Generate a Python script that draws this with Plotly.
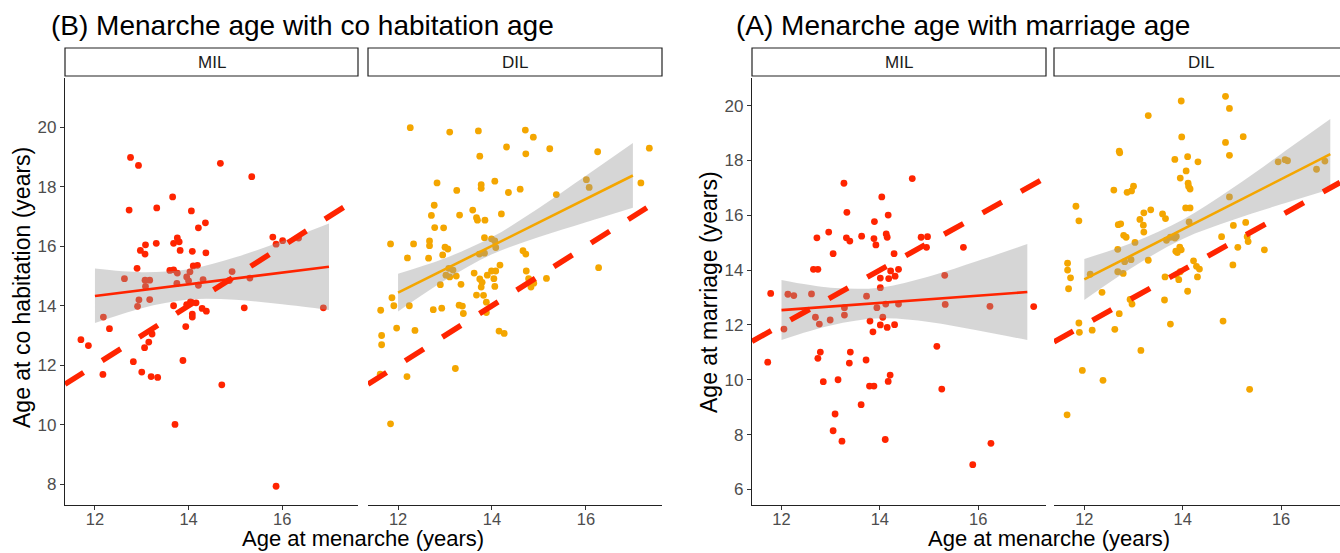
import plotly.graph_objects as go

W, H = 1340, 553

# ---------------- data (points are jittered in the original) -------------
b_mil_x = [12.76, 12.93, 14.68, 15.35, 13.66, 12.73, 13.32, 14.06, 14.36, 14.21, 13.76, 13.80, 13.68, 13.31,
           13.08, 12.97, 13.07, 13.82, 14.08, 14.37, 15.80, 16.01, 15.87, 16.35, 12.90, 13.60, 13.68, 13.76,
           14.10, 14.19, 14.03, 13.96, 12.63, 13.07, 13.17, 13.08, 13.75, 14.00, 14.21, 14.31, 14.93, 14.87,
           15.31, 12.94, 12.91, 13.17, 13.68, 13.96, 14.04, 14.16, 14.29, 14.38, 15.19, 16.88, 14.08, 14.08,
           12.18, 12.31, 11.70, 11.86, 13.22, 13.15, 13.06, 13.94, 12.82, 13.00, 12.17, 13.20, 13.34, 13.88,
           14.71, 13.71, 15.87]
b_mil_y = [18.99, 18.72, 18.79, 18.34, 17.66, 17.22, 17.29, 17.19, 16.79, 16.62, 16.28, 16.15, 16.10, 16.10,
           16.05, 15.86, 15.74, 15.86, 15.83, 15.78, 16.31, 16.19, 16.07, 16.28, 15.26, 15.19, 15.21, 15.10,
           15.34, 15.36, 15.14, 14.97, 14.91, 14.86, 14.86, 14.65, 14.75, 14.84, 14.69, 14.88, 15.15, 14.85,
           14.93, 14.20, 13.98, 14.21, 14.00, 14.04, 14.13, 14.10, 13.91, 13.82, 13.93, 13.93, 13.72, 13.62,
           13.62, 13.23, 12.86, 12.66, 13.05, 12.78, 12.59, 13.30, 12.12, 11.77, 11.69, 11.62, 11.59, 12.16,
           11.34, 10.01, 7.93]

b_dil_x = [12.26, 13.10, 13.71, 14.71, 14.88, 13.74, 14.31, 14.72, 15.23, 16.25, 17.35, 12.83, 13.25, 13.77,
           13.77, 14.06, 14.35, 14.60, 15.37, 16.01, 16.07, 17.17, 12.77, 12.71, 13.31, 13.59, 13.67, 13.69,
           13.85, 14.20, 12.78, 12.97, 11.84, 12.33, 12.67, 12.67, 13.00, 13.06, 12.95, 12.20, 12.65, 13.84,
           13.99, 14.06, 14.08, 13.73, 13.84, 14.66, 14.72, 13.08, 13.17, 13.02, 13.10, 13.24, 12.90, 13.34,
           13.62, 13.74, 13.79, 13.77, 13.90, 13.99, 14.08, 14.04, 14.17, 14.06, 13.67, 13.82, 13.88, 14.73,
           14.78, 14.89, 14.83, 15.16, 16.27, 11.87, 11.91, 12.24, 11.63, 12.75, 12.93, 13.30, 13.37, 13.39,
           13.88, 11.65, 11.65, 11.97, 12.36, 11.62, 12.19, 13.22, 11.84, 14.15, 14.26]
b_dil_y = [19.99, 19.84, 19.88, 19.91, 19.67, 19.03, 19.34, 19.11, 19.28, 19.18, 19.30, 18.13, 17.88, 18.07,
           17.95, 18.19, 17.81, 17.92, 17.74, 18.24, 17.98, 18.13, 17.38, 17.04, 17.05, 17.22, 16.96, 16.88,
           16.88, 17.09, 16.63, 16.62, 16.08, 16.08, 16.18, 16.02, 15.97, 15.91, 15.71, 15.61, 15.60, 16.29,
           16.25, 16.18, 15.96, 15.74, 15.77, 15.85, 15.74, 15.26, 15.20, 15.03, 14.97, 15.00, 14.71, 14.72,
           15.10, 14.90, 14.79, 14.63, 15.03, 15.17, 15.17, 14.91, 15.37, 14.65, 14.36, 14.35, 14.12, 15.17,
           14.91, 14.76, 14.63, 14.92, 15.28, 14.27, 14.00, 14.00, 13.85, 13.87, 13.92, 14.02, 13.99, 13.74,
           13.77, 13.00, 12.69, 13.25, 13.17, 11.70, 11.62, 11.89, 10.03, 13.15, 13.07]

a_mil_x = [13.27, 14.66, 14.04, 13.33, 13.89, 14.17, 12.96, 12.72, 13.32, 13.39, 13.63, 13.88, 13.92, 14.13,
           14.15, 14.84, 14.97, 14.95, 15.70, 13.05, 14.29, 12.65, 12.74, 14.01, 14.18, 14.31, 14.22, 14.38,
           14.01, 15.32, 11.78, 12.13, 12.25, 12.61, 13.73, 13.94, 14.12, 14.38, 13.28, 13.28, 15.33, 16.24,
           17.13, 12.05, 12.69, 12.77, 12.99, 13.80, 14.06, 14.01, 14.15, 14.30, 13.86, 15.16, 11.72, 12.79,
           12.74, 13.40, 13.38, 13.72, 12.85, 13.15, 13.79, 13.88, 14.17, 14.21, 15.26, 13.62, 13.09, 13.05,
           13.23, 14.11, 16.26, 15.89]
a_mil_y = [17.17, 17.34, 16.67, 16.11, 15.77, 16.01, 15.39, 15.18, 15.18, 15.06, 15.24, 15.15, 14.92, 15.32,
           15.20, 15.20, 15.22, 14.83, 14.83, 14.60, 14.60, 14.03, 14.03, 13.71, 13.69, 13.78, 13.97, 14.03,
           13.36, 13.81, 13.15, 13.12, 13.07, 13.13, 13.05, 12.63, 12.76, 12.76, 12.63, 12.36, 12.75, 12.68,
           12.67, 11.85, 12.28, 12.03, 12.18, 12.14, 12.28, 12.00, 11.91, 12.01, 11.75, 11.22, 10.64, 11.01,
           10.78, 11.01, 10.61, 10.72, 9.93, 10.00, 9.77, 9.77, 9.94, 10.17, 9.66, 9.09, 8.75, 8.14,
           7.76, 7.82, 7.68, 6.90]

a_dil_x = [13.97, 14.87, 14.95, 13.30, 13.98, 14.87, 15.23, 12.71, 12.72, 14.95, 13.84, 14.10, 14.31, 14.07,
           13.95, 14.11, 14.12, 14.15, 12.60, 13.00, 12.96, 12.87, 15.94, 16.08, 16.13, 16.72, 16.89, 14.95,
           11.83, 11.89, 13.21, 13.35, 13.59, 13.65, 14.06, 14.15, 14.13, 12.69, 12.74, 13.13, 13.20, 13.21,
           12.80, 12.85, 13.03, 12.68, 13.67, 13.75, 13.84, 13.87, 13.94, 13.97, 13.86, 13.89, 14.79, 15.03,
           15.28, 15.31, 15.33, 15.12, 15.66, 15.02, 12.82, 12.95, 13.30, 12.68, 12.79, 12.12, 14.22, 14.28,
           14.34, 14.30, 13.95, 13.87, 13.92, 13.64, 14.10, 11.66, 11.66, 11.72, 11.68, 12.36, 12.93, 12.97,
           13.63, 12.71, 11.89, 11.90, 12.16, 12.62, 13.75, 14.82, 13.15, 11.96, 12.38, 15.36, 11.65]
a_dil_y = [20.17, 20.34, 19.90, 19.64, 18.86, 18.66, 18.87, 18.34, 18.28, 18.19, 18.04, 18.14, 17.95, 17.62,
           17.36, 17.17, 17.05, 16.96, 16.92, 17.06, 16.89, 16.84, 17.95, 18.03, 17.99, 17.68, 17.98, 16.67,
           16.33, 15.80, 16.09, 16.20, 16.05, 15.88, 16.27, 16.27, 15.76, 15.66, 15.69, 15.85, 15.64, 15.39,
           15.27, 15.20, 15.01, 14.76, 15.09, 15.20, 15.17, 15.23, 14.84, 14.74, 14.69, 14.64, 15.22, 15.63,
           15.74, 15.22, 15.04, 14.83, 14.74, 14.19, 14.31, 14.38, 14.36, 13.94, 13.88, 13.85, 14.34, 14.14,
           14.04, 13.75, 13.94, 13.82, 13.65, 13.75, 13.23, 14.25, 14.00, 13.72, 13.32, 13.19, 12.93, 12.76,
           12.91, 12.41, 12.07, 11.73, 11.81, 11.84, 12.03, 12.14, 11.07, 10.34, 9.98, 9.65, 8.72]

# linear fit and its 95% band
fit_x = [12, 17]
b_mil_fit = [14.33, 15.31]
b_dil_fit = [14.44, 18.38]
a_mil_fit = [12.54, 13.20]
a_dil_fit = [13.66, 18.23]

band_x = [12, 13, 14, 15, 16, 17]
b_mil_hi = [15.25, 15.13, 15.23, 15.63, 16.17, 16.77]
b_mil_lo = [13.42, 13.92, 14.21, 14.20, 14.05, 13.86]
b_dil_hi = [15.08, 15.60, 16.31, 17.29, 18.37, 19.47]
b_dil_lo = [13.81, 14.86, 15.73, 16.31, 16.81, 17.30]
a_mil_hi = [13.64, 13.36, 13.36, 13.77, 14.34, 14.95]
a_mil_lo = [11.45, 11.98, 12.24, 12.11, 11.80, 11.45]
a_dil_hi = [14.41, 15.02, 15.84, 16.98, 18.24, 19.51]
a_dil_lo = [12.91, 14.12, 15.14, 15.82, 16.40, 16.95]

# identity reference line y = x
ref_intercept, ref_slope = 0.0, 1.0

x_ticks = [12, 14, 16]
b_y_ticks = [8, 10, 12, 14, 16, 18, 20]
a_y_ticks = [6, 8, 10, 12, 14, 16, 18, 20]
facet_labels = ["MIL", "DIL"]

# ---------------- styling -----------------
RED = "#ff2400"
ORANGE = "#f4a600"
FONT = "Liberation Sans, Arial, sans-serif"

b_xrange = [11.36, 17.62]
a_xrange = [11.40, 17.38]
a_dil_xrange = [11.384, 17.197]
b_yrange = [7.30, 21.66]
a_yrange = [5.43, 21.01]


def px_x(p):
    return p / W


def px_y(p):
    return 1 - p / H


fig = go.Figure()

facets = [
    ("x", "y", b_mil_x, b_mil_y, b_mil_fit, b_mil_hi, b_mil_lo, RED, b_xrange),
    ("x2", "y", b_dil_x, b_dil_y, b_dil_fit, b_dil_hi, b_dil_lo, ORANGE, b_xrange),
    ("x3", "y2", a_mil_x, a_mil_y, a_mil_fit, a_mil_hi, a_mil_lo, RED, a_xrange),
    ("x4", "y2", a_dil_x, a_dil_y, a_dil_fit, a_dil_hi, a_dil_lo, ORANGE, a_dil_xrange),
]

for xa, ya, xs, ys, fit, hi, lo, col, xr in facets:
    fig.add_trace(go.Scatter(x=xs, y=ys, mode="markers", xaxis=xa, yaxis=ya,
                             marker=dict(color=col, size=6.8, line=dict(width=0)),
                             showlegend=False, hoverinfo="skip"))
    fig.add_trace(go.Scatter(x=band_x, y=lo, mode="lines", xaxis=xa, yaxis=ya,
                             line=dict(width=0, shape="spline", color="rgba(0,0,0,0)"),
                             showlegend=False, hoverinfo="skip"))
    fig.add_trace(go.Scatter(x=band_x, y=hi, mode="lines", xaxis=xa, yaxis=ya,
                             line=dict(width=0, shape="spline", color="rgba(0,0,0,0)"),
                             fill="tonexty", fillcolor="rgba(153,153,153,0.4)",
                             showlegend=False, hoverinfo="skip"))
    fig.add_trace(go.Scatter(x=fit_x, y=fit, mode="lines", xaxis=xa, yaxis=ya,
                             line=dict(color=col, width=2.6),
                             showlegend=False, hoverinfo="skip"))
    ref_x = list(xr)
    ref_y = [ref_intercept + ref_slope * v for v in ref_x]
    fig.add_trace(go.Scatter(x=ref_x, y=ref_y, mode="lines", xaxis=xa, yaxis=ya,
                             line=dict(color=RED, width=5.5, dash="22px,22px"),
                             showlegend=False, hoverinfo="skip"))

ydom = [px_y(505), px_y(78)]
tickfont = dict(family=FONT, size=17, color="#4d4d4d")
xtickfont = dict(family=FONT, size=16.5, color="#4d4d4d")
common_x = dict(showgrid=False, zeroline=False, showline=True, linecolor="#222222", linewidth=1.2,
                ticks="outside", ticklen=4, tickwidth=1.2, tickcolor="#333333", tickfont=xtickfont,
                tickvals=x_ticks, fixedrange=True, ticklabelstandoff=-5)
common_y = dict(showgrid=False, zeroline=False, showline=True, linecolor="#222222", linewidth=1.2,
                ticks="outside", ticklen=4, tickwidth=1.2, tickcolor="#333333", tickfont=tickfont,
                domain=ydom, fixedrange=True)

fig.update_layout(
    width=W, height=H, autosize=False,
    margin=dict(l=0, r=0, t=0, b=0, pad=0),
    paper_bgcolor="white", plot_bgcolor="white",
    showlegend=False,
    xaxis=dict(common_x, domain=[px_x(65), px_x(358)], range=b_xrange, anchor="y"),
    xaxis2=dict(common_x, domain=[px_x(368), px_x(662)], range=b_xrange, anchor="y"),
    xaxis3=dict(common_x, domain=[px_x(752), px_x(1046)], range=a_xrange, anchor="y2"),
    xaxis4=dict(common_x, domain=[px_x(1054), 1.0], range=a_dil_xrange, anchor="y2"),
    yaxis=dict(common_y, range=b_yrange, tickvals=b_y_ticks, anchor="x"),
    yaxis2=dict(common_y, range=a_yrange, tickvals=a_y_ticks, anchor="x3"),
)

shapes = []
annotations = []
strips = [(65, 358, facet_labels[0]), (368, 662, facet_labels[1]),
          (752, 1046, facet_labels[0]), (1054, 1348, facet_labels[1])]
for x0, x1, lab in strips:
    shapes.append(dict(type="rect", xref="paper", yref="paper",
                       x0=px_x(x0), x1=px_x(min(x1, W + 5)), y0=px_y(76), y1=px_y(48),
                       line=dict(color="#222222", width=1.2), fillcolor="white", layer="above"))
    annotations.append(dict(text=lab, xref="paper", yref="paper",
                            x=px_x((x0 + x1) / 2), y=px_y(62), xanchor="center", yanchor="middle",
                            showarrow=False, font=dict(family=FONT, size=17, color="#1a1a1a")))

annotations += [
    dict(text="(B) Menarche age with co habitation age", xref="paper", yref="paper",
         x=px_x(49), y=px_y(26), xanchor="left", yanchor="middle", showarrow=False,
         font=dict(family=FONT, size=28, color="black")),
    dict(text="(A) Menarche age with marriage age", xref="paper", yref="paper",
         x=px_x(734), y=px_y(26), xanchor="left", yanchor="middle", showarrow=False,
         font=dict(family=FONT, size=28, color="black")),
    dict(text="Age at co habitation (years)", xref="paper", yref="paper",
         x=px_x(22), y=px_y(288), xanchor="center", yanchor="middle", textangle=-90,
         showarrow=False, font=dict(family=FONT, size=23, color="black")),
    dict(text="Age at marriage (years)", xref="paper", yref="paper",
         x=px_x(709), y=px_y(292), xanchor="center", yanchor="middle", textangle=-90,
         showarrow=False, font=dict(family=FONT, size=23, color="black")),
    dict(text="Age at menarche (years)", xref="paper", yref="paper",
         x=px_x(363), y=0, xanchor="center", yanchor="bottom",
         showarrow=False, font=dict(family=FONT, size=22, color="black")),
    dict(text="Age at menarche (years)", xref="paper", yref="paper",
         x=px_x(1049), y=0, xanchor="center", yanchor="bottom",
         showarrow=False, font=dict(family=FONT, size=22, color="black")),
]

fig.update_layout(shapes=shapes, annotations=annotations)

fig.write_html("out.html", include_plotlyjs=True, config={"displayModeBar": False})
